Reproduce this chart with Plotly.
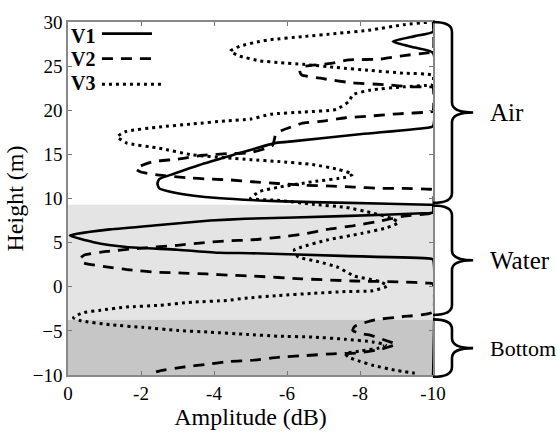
import plotly.graph_objects as go

# ---------------- data (amplitude in dB, height in m) ----------------
v1_amp = [-10, -10, -9.5, -8.9, -9.5, -10, -10, -9.9, -8.05, -6.2, -5.7, -4.5, -3.6, -2.9, -2.5, -2.45,
          -2.5, -3.0, -4.1, -5.7, -7.7, -9.9, -10, -10, -9.9, -7.5, -4.85, -3.9, -2.5, -1.15, -0.25,
          -0.05, -0.7, -1.6, -3.0, -4.15, -5.0, -7.5, -9.9, -10, -10]
v1_h = [30.5, 28.9, 28.4, 27.8, 27.1, 26.5, 18.2, 18.05, 17.3, 16.5, 16.3, 14.9, 13.8, 12.8, 12.2, 11.7,
        11.15, 10.6, 10.05, 9.7, 9.5, 9.3, 9.25, 8.4, 8.35, 8.0, 7.7, 7.5, 7.0, 6.5, 6.0,
        5.8, 5.05, 4.5, 4.2, 3.85, 3.8, 3.5, 3.2, 3.1, -10.5]

v2_amp = [-10, -10, -9.85, -9.2, -8.55, -7.7, -7.2, -6.45, -6.35, -6.4, -6.95, -7.8, -8.7, -9.4, -9.9, -10,
          -10, -9.9, -9.05, -8.3, -7.6, -7.05, -6.4, -5.85, -5.7, -5.6, -5.0, -4.45, -3.7, -3.0, -2.35,
          -2.0, -1.85, -2.0, -2.4, -3.25, -3.9, -4.45, -5.05, -5.75, -6.5, -7.25, -7.85, -8.5, -9.2,
          -9.9, -10,
          -10, -9.85, -9.2, -8.5, -7.8, -7.1, -6.5, -5.75, -5.0, -4.35, -3.6, -3.0, -1.8, -1.05, -0.45,
          -0.33, -0.4, -1.15, -1.7, -2.45, -3.15, -3.8, -4.45, -5.1, -6.4, -7.85, -9.15, -9.9, -10,
          -10, -9.15, -8.4, -7.85, -7.8, -8.0, -8.3, -8.75, -9.0, -8.8, -8.6, -7.95, -7.25, -6.5, -5.75,
          -5.0, -4.45, -3.8, -3.15, -2.5, -2.3]
v2_h = [30.5, 26.6, 26.5, 26.2, 25.8, 25.7, 25.3, 24.95, 24.5, 24.0, 23.6, 23.1, 22.9, 22.65, 22.65, 22.6,
        19.9, 19.8, 19.6, 19.35, 19.15, 18.8, 18.5, 17.7, 17.4, 16.0, 15.2, 15.1, 14.9, 14.45, 14.2,
        13.7, 13.35, 13.0, 12.7, 12.35, 12.2, 12.1, 11.9, 11.7, 11.5, 11.4, 11.3, 11.15, 11.15,
        11.05, 11.0,
        8.4, 8.25, 8.0, 7.4, 6.9, 6.5, 6.0, 5.6, 5.3, 5.2, 4.95, 4.7, 4.3, 4.0, 3.6,
        3.2, 2.75, 2.2, 1.9, 1.65, 1.55, 1.45, 1.3, 1.2, 0.9, 0.65, 0.55, 0.4, 0.35,
        -2.85, -3.4, -3.75, -4.5, -4.95, -5.3, -5.5, -6.15, -6.5, -6.8, -7.05, -7.5, -7.6, -7.8, -8.0,
        -8.35, -8.45, -8.8, -9.1, -9.55, -9.8]

v3_amp = [-10, -9.85, -9.2, -8.3, -7.35, -6.45, -5.55, -5.25, -4.7, -4.45, -4.7, -5.25, -5.8, -6.45,
          -7.35, -8.3, -9.2, -10, -10,
          -9.95, -9.2, -8.3, -7.8, -7.7, -7.35, -6.45, -5.55, -5.0, -4.35, -3.4, -2.5, -1.6, -1.35,
          -1.6, -2.5, -3.4, -4.35, -5.0, -5.75, -6.7, -7.4, -7.8, -7.6, -6.7, -5.8, -5.25, -5.0,
          -5.75, -6.7, -7.6, -8.35, -8.9, -9.05, -8.75, -8.05, -7.1, -6.4, -6.2, -6.3, -6.85, -7.4,
          -7.85, -8.5, -8.75, -8.35, -7.6, -6.7, -5.75, -4.85, -4.35, -3.4, -2.5, -1.6, -0.9, -0.4,
          -0.15, -0.35, -1.15, -2.05, -3.0, -3.9, -4.9, -5.75, -6.7, -7.6, -8.35, -8.7, -8.5, -8.05,
          -7.6, -7.7, -8.0, -8.35, -8.95, -9.5]
v3_h = [30.3, 30.0, 29.7, 29.1, 28.7, 28.35, 28.0, 27.8, 27.25, 26.7, 26.15, 25.6, 25.4, 25.2,
        24.85, 24.5, 24.2, 23.95, 22.9,
        22.85, 22.65, 22.3, 21.75, 21.0, 20.1, 19.8, 19.55, 19.0, 18.8, 18.45, 18.1, 17.6, 17.0,
        16.3, 15.7, 14.95, 14.6, 14.4, 14.2, 13.85, 13.3, 12.75, 12.4, 11.9, 11.3, 10.8, 10.0,
        9.8, 9.35, 9.0, 8.35, 7.7, 7.25, 6.7, 6.05, 5.3, 4.5, 4.2, 3.4, 2.85, 2.2,
        1.2, 0.65, 0.1, -0.45, -0.55, -0.75, -1.0, -1.3, -1.55, -1.75, -2.1, -2.3, -2.65, -2.95,
        -3.5, -3.85, -4.3, -4.6, -4.95, -5.15, -5.4, -5.6, -5.7, -5.95, -6.25, -6.6, -6.95, -7.25,
        -7.6, -8.0, -8.45, -8.9, -9.45, -9.8]

series_names = ["V1", "V2", "V3"]
series_dash = ["solid", "11px,8px", "3px,4px"]

# media layers (height bounds, m)
layer_names = ["Air", "Water", "Bottom"]
layer_top = [30, 9.2, -3.7]
layer_bot = [9.5, -3.2, -10.2]
water_band = [-3.75, 9.3]
bottom_band = [-10, -3.75]

x_ticks = [0, -2, -4, -6, -8, -10]
y_ticks = [-10, -5, 0, 5, 10, 15, 20, 25, 30]
Y_MIN, Y_MAX = -10, 30

FONT = "Liberation Serif"

fig = go.Figure()
for name, amp, h, dash, w in zip(series_names, [v1_amp, v2_amp, v3_amp], [v1_h, v2_h, v3_h],
                                 series_dash, [2.6, 2.8, 3.0]):
    fig.add_trace(go.Scatter(x=amp, y=h, mode="lines", name=name, showlegend=False,
                             line=dict(color="black", width=w, dash=dash, shape="spline", smoothing=0.5)))

shapes = [
    dict(type="rect", xref="x domain", yref="y", x0=0, x1=1, y0=water_band[0], y1=water_band[1],
         fillcolor="#e4e4e4", line=dict(width=0), layer="below"),
    dict(type="rect", xref="x domain", yref="y", x0=0, x1=1, y0=bottom_band[0], y1=bottom_band[1],
         fillcolor="#c6c6c6", line=dict(width=0), layer="below"),
]

def yp(h):
    return (h - Y_MIN) / (Y_MAX - Y_MIN)

def brace(top, bot, x0=1.0, xm=1.052, xt=1.11, r=0.028):
    t, b = yp(top), yp(bot)
    m = (t + b) / 2
    return (f"M {x0},{t} Q {xm},{t} {xm},{t-r} L {xm},{m+r} Q {xm},{m} {xt},{m} "
            f"Q {xm},{m} {xm},{m-r} L {xm},{b+r} Q {xm},{b} {x0},{b}")

annotations = []
label_sizes = [25, 25, 22]
for name, top, bot, fs in zip(layer_names, layer_top, layer_bot, label_sizes):
    shapes.append(dict(type="path", xref="paper", yref="paper", path=brace(top, bot),
                       line=dict(color="black", width=2.6)))
    annotations.append(dict(text=name, xref="paper", yref="paper", x=1.152, y=yp((top + bot) / 2),
                            xanchor="left", yanchor="middle", showarrow=False,
                            font=dict(family=FONT, size=fs, color="black")))

# manual legend (label followed by line sample)
leg_text_y = [0.959, 0.896, 0.827]
leg_line_y = [0.967, 0.896, 0.824]
leg_x1 = [0.23, 0.23, 0.255]
for name, ty, ly, x1, dash, w in zip(series_names, leg_text_y, leg_line_y, leg_x1, series_dash, [2.6, 2.8, 3.0]):
    annotations.append(dict(text="<b>" + name + "</b>", xref="x domain", yref="y domain", x=0.002, y=ty,
                            xanchor="left", yanchor="middle", showarrow=False,
                            font=dict(family=FONT, size=20, color="black")))
    shapes.append(dict(type="line", xref="x domain", yref="y domain", x0=0.093, x1=x1, y0=ly, y1=ly,
                       line=dict(color="black", width=w, dash=dash)))

fig.update_layout(
    width=557, height=434,
    margin=dict(l=68, r=124, t=15, b=55),
    paper_bgcolor="white", plot_bgcolor="white",
    font=dict(family=FONT, color="black"),
    shapes=shapes, annotations=annotations,
    showlegend=False,
)
fig.update_xaxes(range=[0, -10], tickvals=x_ticks, ticktext=[str(v) for v in x_ticks],
                 ticks="inside", ticklen=4, tickcolor="#777", showline=True, linecolor="#888",
                 linewidth=1.5, mirror="ticks", showgrid=False, zeroline=False,
                 tickfont=dict(family=FONT, size=19, color="black"),
                 title=dict(text="Amplitude (dB)", font=dict(family=FONT, size=24), standoff=2))
fig.update_yaxes(range=[Y_MIN, Y_MAX], tickvals=y_ticks, ticks="inside", ticklen=4, tickcolor="#777",
                 showline=True, linecolor="#888", linewidth=1.5, mirror="ticks", showgrid=False,
                 zeroline=False, tickfont=dict(family=FONT, size=19, color="black"),
                 title=dict(text="Height (m)", font=dict(family=FONT, size=24), standoff=2))

fig.write_html("out.html")
